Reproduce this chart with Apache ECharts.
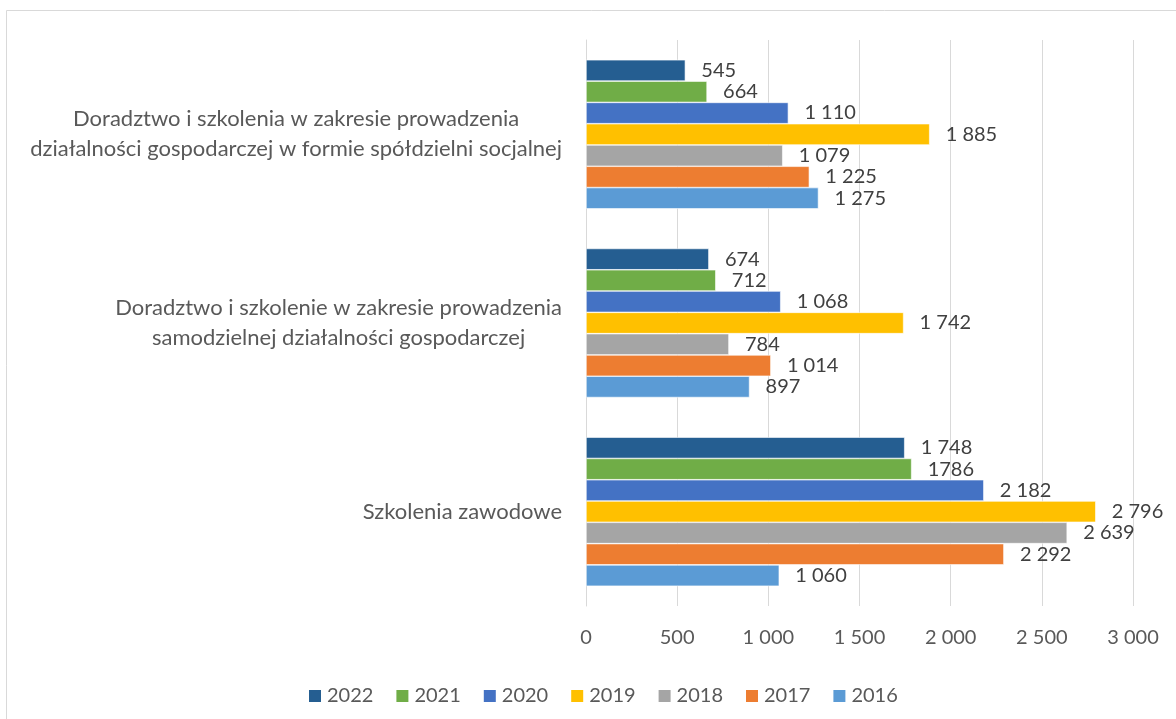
<!DOCTYPE html>
<html>
<head>
<meta charset="utf-8">
<script src="https://cdn.jsdelivr.net/npm/echarts@6/dist/echarts.min.js"></script>
<style>
  html, body { margin: 0; padding: 0; background: #fff; }
  #main { width: 1176px; height: 719px; }
</style>
</head>
<body>
<div id="main"></div>
<script>
// categories from bottom to top
const categories = [
  'Szkolenia zawodowe',
  'Doradztwo i szkolenie w zakresie prowadzenia\nsamodzielnej działalności gospodarczej',
  'Doradztwo i szkolenia w zakresie prowadzenia\ndziałalności gospodarczej w formie spółdzielni socjalnej'
];
const years = ['2022', '2021', '2020', '2019', '2018', '2017', '2016'];
const v2022 = [1748, 674, 545];
const v2021 = [1786, 712, 664];
const v2020 = [2182, 1068, 1110];
const v2019 = [2796, 1742, 1885];
const v2018 = [2639, 784, 1079];
const v2017 = [2292, 1014, 1225];
const v2016 = [1060, 897, 1275];
const xTicks = [0, 500, 1000, 1500, 2000, 2500, 3000];
// labels printed without a thousands space in the source
const plainLabels = { '2021': [0] };

const values = [v2022, v2021, v2020, v2019, v2018, v2017, v2016];
const colors = ['#255E91', '#70AD47', '#4472C4', '#FFC000', '#A5A5A5', '#ED7D31', '#5B9BD5'];

function fmt(n) {
  return String(n).replace(/\B(?=(\d{3})+(?!\d))/g, ' ');
}

const myChart = echarts.init(document.getElementById('main'));

const series = years.map((y, i) => ({
  name: y,
  type: 'bar',
  data: values[i],
  barGap: '0%',
  barCategoryGap: '21%',
  itemStyle: { color: colors[i], borderColor: '#fff', borderWidth: 0.6 },
  label: {
    show: true,
    position: 'right',
    distance: 16,
    color: '#404040',
    fontSize: 20,
    fontFamily: 'Lato',
    formatter: p => (plainLabels[y] || []).includes(p.dataIndex) ? String(p.value) : fmt(p.value)
  }
}));

const option = {
  backgroundColor: '#fff',
  animation: false,
  color: colors,
  graphic: [{
    type: 'rect',
    shape: { x: 6.5, y: 10.5, width: 1300, height: 800 },
    style: { fill: 'none', stroke: '#d9d9d9', lineWidth: 1 },
    silent: true
  }],
  legend: {
    data: years,
    left: 302,
    top: 681,
    itemWidth: 14,
    itemHeight: 14,
    itemGap: 21,
    icon: 'rect',
    textStyle: { color: '#595959', fontSize: 20, fontFamily: 'Lato', padding: [0, 0, 0, 0] }
  },
  grid: { left: 586, right: 43, top: 40, bottom: 113 },
  xAxis: {
    type: 'value',
    min: 0,
    max: 3000,
    interval: 500,
    axisLine: { show: false },
    axisTick: { show: false },
    splitLine: { lineStyle: { color: '#d9d9d9', width: 1 } },
    axisLabel: {
      color: '#595959',
      fontSize: 20,
      fontFamily: 'Lato',
      margin: 22,
      formatter: v => xTicks.includes(v) ? fmt(v) : ''
    }
  },
  yAxis: {
    type: 'category',
    data: categories,
    axisLine: { show: true, lineStyle: { color: '#d9d9d9' } },
    axisTick: { show: false },
    axisLabel: {
      margin: 24,
      color: '#595959',
      fontSize: 22,
      fontFamily: 'Lato',
      lineHeight: 30,
      formatter: v => v.split('\n').map(s => '{c|' + s + '}').join('\n'),
      rich: { c: { align: 'center', color: '#595959', fontSize: 22, fontFamily: 'Lato', lineHeight: 30 } }
    }
  },
  series: series
};

myChart.setOption(option);
</script>
</body>
</html>
